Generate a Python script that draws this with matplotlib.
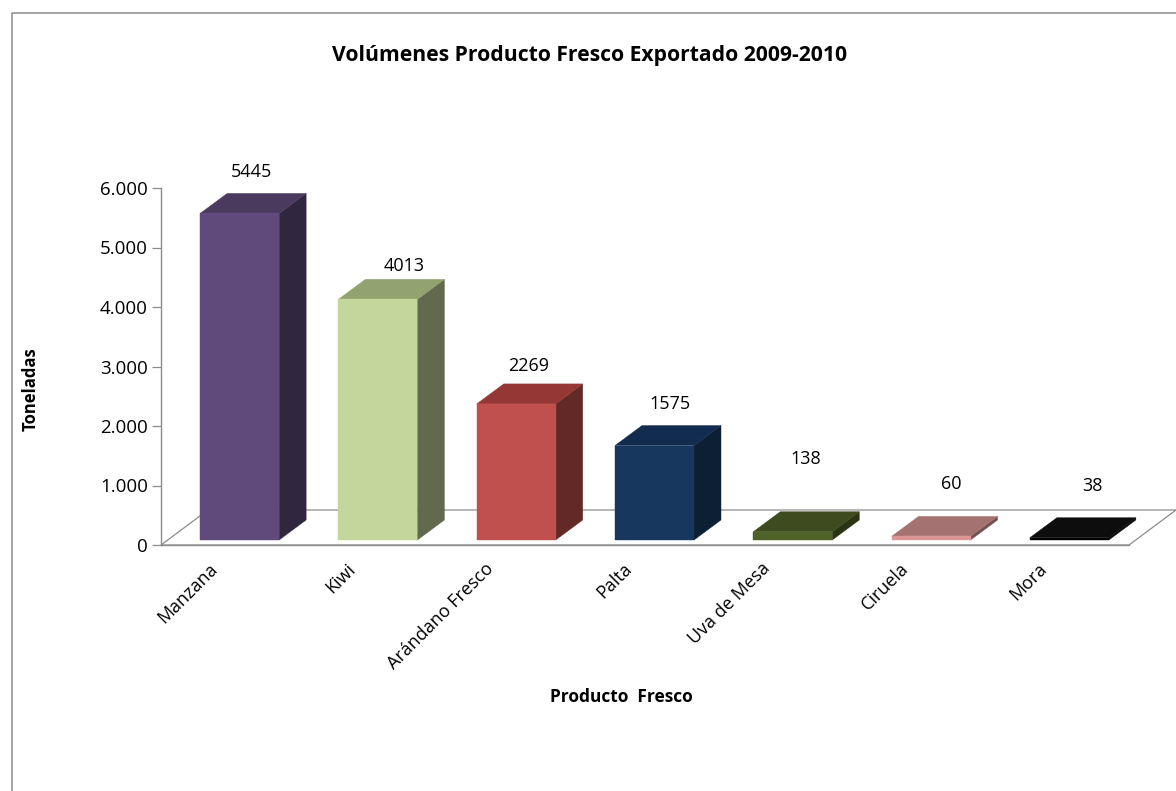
import matplotlib
matplotlib.use('Agg')
import matplotlib.pyplot as plt
from matplotlib.patches import Polygon, Rectangle
from matplotlib.transforms import ScaledTranslation

categories = ['Manzana', 'Kiwi', 'Arándano Fresco', 'Palta', 'Uva de Mesa', 'Ciruela', 'Mora']
values = [5445, 4013, 2269, 1575, 138, 60, 38]
y_ticks = [0, 1000, 2000, 3000, 4000, 5000, 6000]
y_tick_labels = ['0', '1.000', '2.000', '3.000', '4.000', '5.000', '6.000']

front_colors = ['#604A7B', '#C3D69B', '#C0504D', '#17375E', '#4F6228', '#D99694', '#000000']
top_colors = ['#4A3A5E', '#92A36F', '#953735', '#112C4F', '#3D4B1E', '#A47371', '#0D0D0D']
side_colors = ['#312640', '#62694D', '#632927', '#0D1F33', '#2A3415', '#735050', '#0A0A0A']

# label offsets from the back top corner of each bar, in pixels
label_dx = [-55, -40, -54, -51, -54, -46, -43]
label_dy = [16, 8, 13, 17, 48, 27, 27]

W, H = 1176, 791
plt.rcParams['font.family'] = ['Open Sans', 'DejaVu Sans']
gray = '#8C8C8C'

fig = plt.figure(figsize=(W / 100, H / 100), dpi=100, facecolor='white')
ax = fig.add_axes([161 / W, 1 - 545 / H, 968 / W, 357 / H])
ax.set_xlim(-0.5, 6.5)
ax.set_ylim(0, 6000)

# pixels to data units
px_x = 7 / 968
px_y = 6000 / 357
bar_w = 79 * px_x
scale = 1.008

# floor
floor_dx = 47 * px_x
floor_dy = 35 * px_y
floor = Polygon([(-0.5, 0), (6.5, 0), (6.5 + floor_dx, floor_dy), (-0.5 + floor_dx, floor_dy)],
                closed=True, facecolor='white', edgecolor=gray, linewidth=0.9, clip_on=False, zorder=1)
ax.add_patch(floor)

depth_x = 27 * px_x
depth_y = 20 * px_y
off_x = 9.5 * px_x
off_y = 5 * px_y

for i in range(len(values)):
    left = i + off_x - bar_w / 2
    right = left + bar_w
    bottom = off_y
    top = bottom + values[i] * scale
    ax.add_patch(Polygon([(right, bottom), (right + depth_x, bottom + depth_y),
                          (right + depth_x, top + depth_y), (right, top)],
                         facecolor=side_colors[i], edgecolor=side_colors[i], linewidth=0.3,
                         clip_on=False, zorder=3))
    ax.add_patch(Polygon([(left, top), (right, top), (right + depth_x, top + depth_y),
                          (left + depth_x, top + depth_y)],
                         facecolor=top_colors[i], edgecolor=top_colors[i], linewidth=0.3,
                         clip_on=False, zorder=3))
    ax.add_patch(Rectangle((left, bottom), bar_w, top - bottom, facecolor=front_colors[i],
                           edgecolor=front_colors[i], linewidth=0.3, clip_on=False, zorder=4))
    ax.text(right + depth_x + label_dx[i] * px_x, top + depth_y + label_dy[i] * px_y, str(values[i]),
            ha='center', va='baseline', fontsize=13, color='black', zorder=5)

ax.set_facecolor('none')
ax.spines['top'].set_visible(False)
ax.spines['right'].set_visible(False)
ax.spines['left'].set_color(gray)
ax.spines['bottom'].set_color(gray)
ax.spines['left'].set_linewidth(1.0)
ax.spines['bottom'].set_linewidth(1.0)

ax.set_yticks(y_ticks)
ax.set_yticklabels(y_tick_labels, fontsize=13.5, color='black')
ax.tick_params(axis='y', length=6.5, width=0.9, color=gray, pad=3)

ax.set_xticks(range(len(categories)))
ax.set_xticklabels(categories, fontsize=13, rotation=45, ha='right', va='top', rotation_mode='anchor')
ax.tick_params(axis='x', length=0, pad=10.5)
shift = ScaledTranslation(-22 / 100, 0, fig.dpi_scale_trans)
for lab in ax.get_xticklabels():
    lab.set_transform(lab.get_transform() + shift)

# outer chart frame, runs off the right and bottom of the picture
fig.add_artist(plt.Line2D([11.5 / W, 11.5 / W, 1], [0, 1 - 13 / H, 1 - 13 / H], color=gray, linewidth=1.1))

fig.text(590 / W, 1 - 55 / H, 'Volúmenes Producto Fresco Exportado 2009-2010', ha='center', va='center',
         fontsize=15.2, fontweight='bold', color='black')
fig.text(621 / W, 1 - 697 / H, 'Producto  Fresco', ha='center', va='center', fontsize=12.5,
         fontweight='bold', color='black')
fig.text(31 / W, 1 - 389 / H, 'Toneladas', ha='center', va='center', rotation=90, fontsize=12,
         fontweight='bold', color='black')

fig.savefig('out.png', dpi=100)
